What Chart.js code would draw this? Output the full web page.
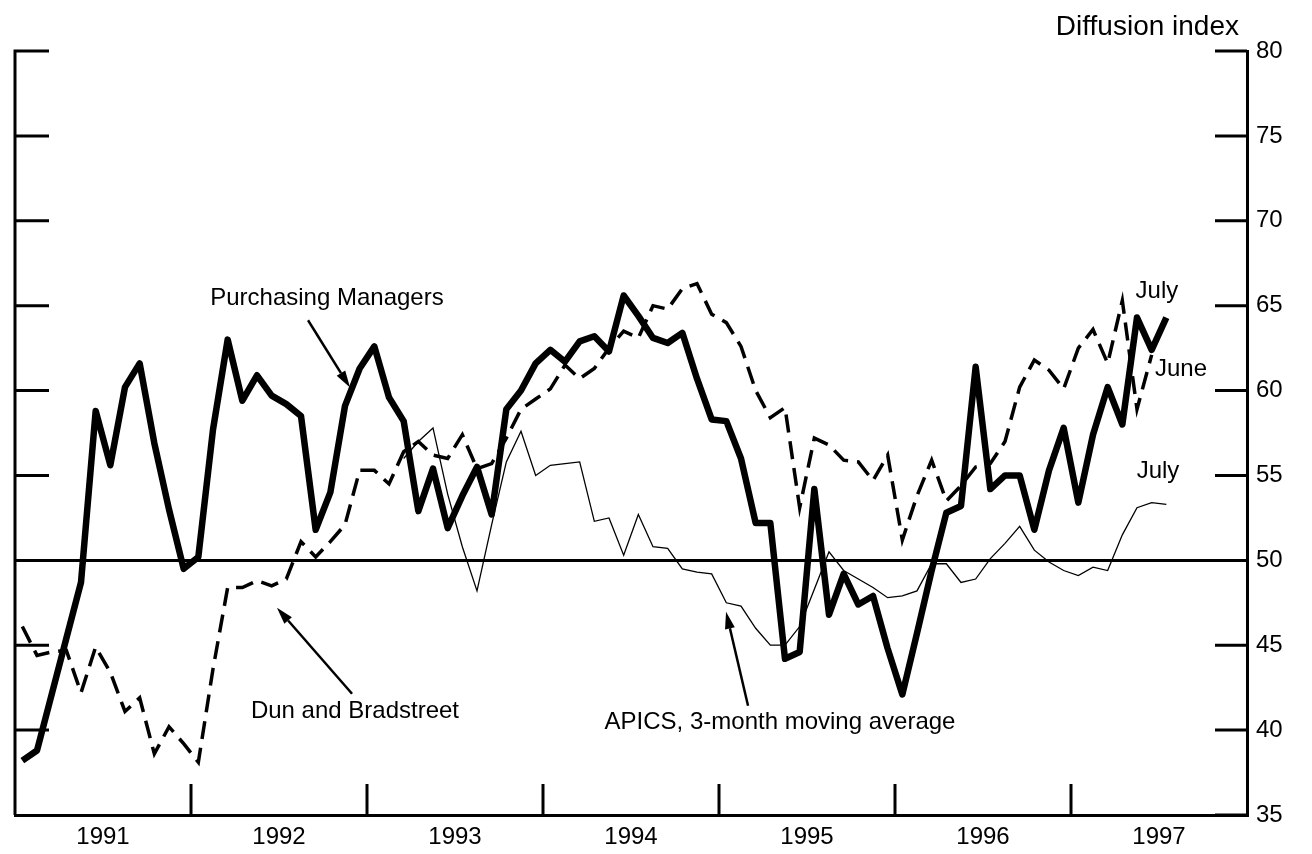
<!DOCTYPE html>
<html>
<head>
<meta charset="utf-8">
<script src="https://cdn.jsdelivr.net/npm/chart.js@4.4.1/dist/chart.umd.min.js"></script>
<style>
  html, body { margin: 0; padding: 0; background: #fff; }
</style>
</head>
<body>
<canvas id="myChart" width="1312" height="854"></canvas>
<script>
// monthly values, Jan 1991 onwards
var yearLabels = ['1991', '1992', '1993', '1994', '1995', '1996', '1997'];
var yTickValues = [35, 40, 45, 50, 55, 60, 65, 70, 75, 80];

var purchasingManagers = [
    38.2, 38.8, 42.1, 45.4, 48.7, 58.8, 55.6, 60.2, 61.6, 56.9,
    53.0, 49.5, 50.2, 57.7, 63.0, 59.4, 60.9, 59.7, 59.2, 58.5,
    51.8, 54.0, 59.1, 61.3, 62.6, 59.6, 58.2, 52.9, 55.4, 51.9,
    53.8, 55.5, 52.7, 58.9, 60.0, 61.6, 62.4, 61.7, 62.9, 63.2,
    62.3, 65.6, 64.4, 63.1, 62.8, 63.4, 60.7, 58.3, 58.2, 56.0,
    52.2, 52.2, 44.2, 44.6, 54.2, 46.8, 49.2, 47.4, 47.9, 44.8,
    42.1, 45.7, 49.4, 52.8, 53.2, 61.4, 54.2, 55.0, 55.0, 51.8,
    55.3, 57.8, 53.4, 57.4, 60.2, 58.0, 64.3, 62.4, 64.3
];

var dunBradstreet = [
    46.1, 44.4, 44.6, 44.7, 42.2, 44.9, 43.4, 41.1, 41.9, 38.6,
    40.2, 39.2, 38.1, 43.6, 48.4, 48.4, 48.8, 48.5, 48.9, 51.1,
    50.2, 51.1, 52.1, 55.3, 55.3, 54.5, 56.4, 57.0, 56.2, 56.0,
    57.4, 55.4, 55.7, 57.2, 58.9, 59.5, 60.1, 61.5, 60.7, 61.3,
    62.5, 63.5, 63.1, 65.0, 64.8, 66.0, 66.3, 64.5, 64.0, 62.6,
    60.0, 58.4, 59.0, 53.1, 57.2, 56.8, 55.9, 55.8, 54.7, 56.2,
    51.2, 53.8, 55.9, 53.5, 54.4, 55.5, 55.7, 57.0, 60.2, 61.8,
    61.2, 60.1, 62.5, 63.6, 61.6, 65.3, 58.9, 62.1
];

// APICS begins in March 1993
var apicsStart = 26;
var apics = [
    56.0, 57.0, 57.8, 53.9, 50.8, 48.2, 52.1, 55.8, 57.6, 55.0,
    55.6, 55.7, 55.8, 52.3, 52.5, 50.3, 52.7, 50.8, 50.7, 49.5,
    49.3, 49.2, 47.5, 47.3, 46.0, 45.0, 45.0, 46.1, 48.3, 50.5,
    49.4, 48.9, 48.4, 47.8, 47.9, 48.2, 49.8, 49.8, 48.7, 48.9,
    50.1, 51.0, 52.0, 50.6, 49.9, 49.4, 49.1, 49.6, 49.4, 51.5,
    53.1, 53.4, 53.3
];

function toPoints(values, start) {
    var pts = [];
    for (var i = 0; i < values.length; i++) {
        pts.push({x: start + i + 0.5, y: values[i]});
    }
    return pts;
}

var FONT = '"Liberation Sans", Arial, Helvetica, sans-serif';
Chart.defaults.font.family = FONT;
Chart.defaults.color = '#000';

function arrow(c, x1, y1, x2, y2) {
    var ang = Math.atan2(y2 - y1, x2 - x1);
    var len = 17, half = 5;
    var bx = x2 - len * Math.cos(ang), by = y2 - len * Math.sin(ang);
    c.beginPath();
    c.moveTo(x1, y1);
    c.lineTo(bx, by);
    c.lineWidth = 2.5;
    c.stroke();
    c.beginPath();
    c.moveTo(x2, y2);
    c.lineTo(bx + half * Math.sin(ang), by - half * Math.cos(ang));
    c.lineTo(bx - half * Math.sin(ang), by + half * Math.cos(ang));
    c.closePath();
    c.fill();
}

var frame = {
    id: 'frame',
    afterDraw: function(chart) {
        var c = chart.ctx, a = chart.chartArea;
        var xs = chart.scales.x, ys = chart.scales.y;
        c.save();
        c.strokeStyle = '#000';
        c.fillStyle = '#000';
        c.lineWidth = 3;
        c.beginPath();
        c.moveTo(a.left, a.top - 1.5);
        c.lineTo(a.left, a.bottom);
        yTickValues.forEach(function(v) {
            var y = ys.getPixelForValue(v);
            if (v !== 50 && v !== 35) {
                c.moveTo(a.left, y);
                c.lineTo(a.left + 34, y);
            }
            if (v !== 50) {
                c.moveTo(a.right - 32, y);
                c.lineTo(a.right, y);
            }
        });
        for (var k = 1; k < yearLabels.length; k++) {
            var x = xs.getPixelForValue(k * 12);
            c.moveTo(x, a.bottom);
            c.lineTo(x, a.bottom - 31);
        }
        c.stroke();

        function px(m) { return xs.getPixelForValue(m); }
        function py(v) { return ys.getPixelForValue(v); }

        c.font = '24px ' + FONT;
        c.textAlign = 'center';
        c.textBaseline = 'middle';
        c.fillText('Purchasing Managers', px(21.27), py(65.43));
        c.fillText('Dun and Bradstreet', px(23.18), py(41.08));
        c.fillText('APICS, 3-month moving average', px(52.16), py(40.43));
        c.fillText('July', px(77.86), py(65.85));
        c.fillText('June', px(79.5), py(61.25));
        c.fillText('July', px(77.93), py(55.23));

        arrow(c, px(19.98), py(64.14), px(22.84), py(60.18));
        arrow(c, px(22.98), py(42.14), px(17.86), py(47.21));
        arrow(c, px(49.98), py(41.43), px(48.48), py(46.97));

        c.font = '28px ' + FONT;
        c.textAlign = 'right';
        c.fillText('Diffusion index', a.right - 8, 27);
        c.restore();
    }
};

var ctx = document.getElementById('myChart').getContext('2d');
var myChart = new Chart(ctx, {
    type: 'line',
    data: {
        datasets: [{
            label: 'Purchasing Managers',
            data: toPoints(purchasingManagers, 0),
            borderColor: '#000',
            borderWidth: 6.5,
            borderJoinStyle: 'round',
            pointRadius: 0,
            tension: 0
        }, {
            label: 'Dun and Bradstreet',
            data: toPoints(dunBradstreet, 0),
            borderColor: '#000',
            borderWidth: 3.5,
            borderDash: [18, 9],
            pointRadius: 0,
            tension: 0
        }, {
            label: 'APICS, 3-month moving average',
            data: toPoints(apics, apicsStart),
            borderColor: '#000',
            borderWidth: 1.3,
            pointRadius: 0,
            tension: 0
        }]
    },
    options: {
        responsive: false,
        animation: false,
        devicePixelRatio: 1,
        layout: { padding: { left: 15, top: 51, right: 0, bottom: 0 } },
        plugins: { legend: { display: false }, tooltip: { enabled: false } },
        scales: {
            x: {
                type: 'linear',
                min: 0,
                max: 84,
                afterBuildTicks: function(scale) {
                    scale.ticks = yearLabels.map(function(y, i) { return {value: 6 + 12 * i}; });
                },
                afterFit: function(scale) { scale.height = 39; },
                ticks: {
                    autoSkip: false,
                    maxRotation: 0,
                    padding: 8,
                    font: { size: 24 },
                    callback: function(value, index) { return yearLabels[index]; }
                },
                grid: { display: false, drawTicks: false },
                border: { display: true, color: '#000', width: 3 }
            },
            y: {
                position: 'right',
                min: 35,
                max: 80,
                afterBuildTicks: function(scale) {
                    scale.ticks = yTickValues.map(function(v) { return {value: v}; });
                },
                afterFit: function(scale) { scale.width = 65; },
                ticks: { padding: 9, font: { size: 24 } },
                grid: {
                    drawTicks: false,
                    lineWidth: 3,
                    color: function(c) {
                        return c.tick && c.tick.value === 50 ? '#000' : 'rgba(0,0,0,0)';
                    }
                },
                border: { display: true, color: '#000', width: 3 }
            }
        }
    },
    plugins: [frame]
});
</script>
</body>
</html>
